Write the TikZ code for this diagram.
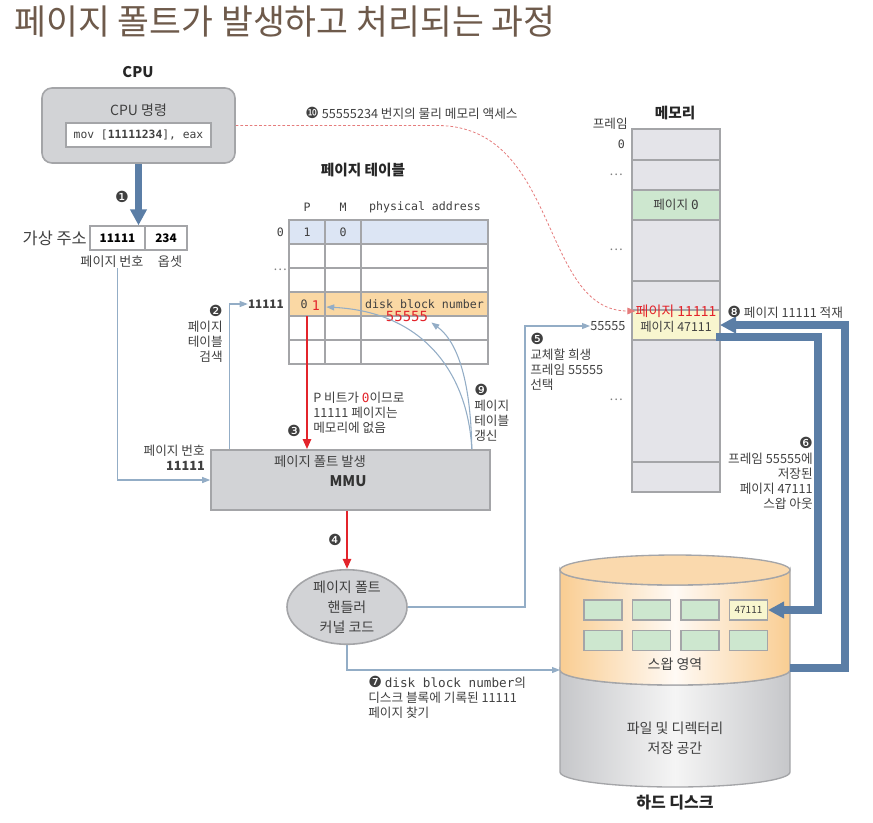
\documentclass[tikz,border=0pt]{standalone}
\usepackage{fontspec}
\setmainfont{Noto Sans CJK KR}
\newfontfamily\monofont{DejaVu Sans Mono}
\newfontfamily\dingfont{DejaVu Sans}
\usetikzlibrary{arrows.meta,shapes.geometric,positioning,calc}

\definecolor{titlebrown}{HTML}{6E5A4B}
\definecolor{txtgray}{HTML}{404040}
\definecolor{linegray}{HTML}{A4A5A8}
\definecolor{boxgray}{HTML}{D2D3D6}
\definecolor{memgray}{HTML}{E4E4E9}
\definecolor{ptblue}{HTML}{DCE5F4}
\definecolor{ptorange}{HTML}{FAD8A4}
\definecolor{pagegreen}{HTML}{CDE7CF}
\definecolor{pageyellow}{HTML}{F8F6CF}
\definecolor{swapblue}{HTML}{5B7EA6}
\definecolor{linkblue}{HTML}{93ADC6}
\definecolor{faultred}{HTML}{E3242B}
\definecolor{dashred}{HTML}{E57C7C}
\definecolor{diskorange}{HTML}{F9CD92}
\definecolor{diskgray}{HTML}{C6C7CA}

\newcommand{\dnum}[1]{{\dingfont\fontsize{11.5}{11.2}\selectfont #1}}

\tikzset{
  lbl/.style={font=\fontsize{9.5}{11.2}\selectfont, text=txtgray, inner sep=0pt},
  headtext/.style={font=\fontsize{11}{13}\selectfont\bfseries, text=black!85, inner sep=0pt},
  monotext/.style={font=\fontsize{8.7}{10}\selectfont\monofont, text=txtgray, inner sep=0pt},
  ptcell/.style={draw=linegray, line width=1.2pt, minimum height=18pt, inner sep=0pt, outer sep=0pt},
  memcell/.style={draw=linegray, line width=1.2pt, fill=memgray, minimum width=66pt, inner sep=0pt, outer sep=0pt},
  swapbox/.style={draw=linegray, line width=0.8pt, fill=pagegreen, minimum width=28.5pt, minimum height=15pt, inner sep=0pt},
  linkarrow/.style={linkblue, line width=0.8pt, -{Triangle[length=6pt,width=4.5pt]}},
  faultarrow/.style={faultred, line width=1.8pt, -{Triangle[length=7.5pt,width=6pt]}},
  bigswap/.style={swapblue, line width=5.5pt, -{Triangle[length=12pt,width=12pt]}},
}

\begin{document}
\begin{tikzpicture}[x=0.75pt,y=-0.75pt]
\useasboundingbox (0,0) rectangle (873,822);

% title
\node[anchor=west, inner sep=0pt, text=titlebrown, font=\fontsize{26}{28}\selectfont] (title) at (14,22) {페이지 폴트가 발생하고 처리되는 과정};

% CPU
\node[headtext] (cpulbl) at (138,72) {CPU};
\node[draw=linegray, line width=1.2pt, fill=boxgray, rounded corners=7.5pt, minimum width=144.75pt, minimum height=56.25pt] (cpu) at (138.5,125.5) {};
\node[lbl, font=\fontsize{10.5}{12}\selectfont] (cpuinst) at (138.5,110) {CPU 명령};
\node[draw=linegray, line width=1pt, fill=white, minimum width=108.75pt, minimum height=18pt, inner sep=0pt] (instr) at (138.5,135) {};
\node[monotext, font=\fontsize{8.5}{10}\selectfont\monofont] at (instr) {mov [\textbf{11111234}], eax};

% virtual address
\node[lbl, anchor=east, font=\fontsize{12.3}{14}\selectfont] (valbl) at (87,238) {가상 주소};
\node[draw=linegray, line width=1pt, minimum width=41.25pt, minimum height=18pt, inner sep=0pt, font=\fontsize{8.8}{10}\selectfont\bfseries] (vapg) at (117.5,238) {11111};
\node[draw=linegray, line width=1pt, minimum width=31.5pt, minimum height=18pt, inner sep=0pt, font=\fontsize{8.8}{10}\selectfont\bfseries] (vaoff) at (166,238) {234};
\node[lbl, font=\fontsize{9.8}{11}\selectfont] (vapglbl) at (112,262) {페이지 번호};
\node[lbl, font=\fontsize{9.8}{11}\selectfont] (vaofflbl) at (170,262) {옵셋};
\node[lbl] at (122,197) {\dnum{❶}};
\draw[bigswap] (cpu.south) -- (cpu.south |- vapg.north);

% page table
\node[headtext] (pttitle) at (363,170) {페이지 테이블};
\node[monotext] at (307,207) {P};
\node[monotext] at (343,207) {M};
\node[monotext] at (425,207) {physical address};
\foreach \r/\fc in {1/ptblue,2/white,3/white,4/ptorange,5/white,6/white} {
  \node[ptcell, fill=\fc, minimum width=27pt] (p\r) at (307,{208+24*\r}) {};
  \node[ptcell, fill=\fc, minimum width=27pt] (m\r) at (343,{208+24*\r}) {};
  \node[ptcell, fill=\fc, minimum width=95.25pt] (a\r) at (424.5,{208+24*\r}) {};
}
\node[monotext] at (p1) {1};
\node[monotext] at (m1) {0};
\node[monotext, anchor=east] (row0) at (284,232) {0};
\node[lbl, text=gray] (rowdots) at (280,270) {…};
\node[lbl, anchor=east, font=\fontsize{8.8}{10}\selectfont\bfseries] (row11111) at (284,304) {11111};
\node[monotext] (pbit) at (304,304) {0};
\node[monotext, text=faultred, font=\fontsize{10}{12}\selectfont\monofont] (pnew) at (316,306) {1};
\node[monotext] (diskblk) at (a4) {disk block number};
\node[monotext, text=faultred, font=\fontsize{10.5}{12}\selectfont\monofont] (newframe) at (407,316) {55555};

% memory
\node[headtext] (memtitle) at (675,113) {메모리};
\foreach \n/\ya/\yb/\fc in {0/129/160/memgray,1/160/190/memgray,2/190/220/pagegreen,3/220/281/memgray,4/281/310/memgray,5/310/340/pageyellow,6/340/462/memgray,7/462/492/memgray}
  \node[memcell, fill=\fc, minimum height={(\yb-\ya)*0.75pt}] (mem\n) at (676,{(\ya+\yb)/2}) {};
\node[lbl] at (mem2) {페이지 {\monofont 0}};
\node[lbl, font=\fontsize{9.3}{11}\selectfont] (pg47111) at (676,327) {페이지 47111};
\node[lbl, text=faultred, font=\fontsize{10.5}{12}\selectfont] (pg11111) at (676,311) {페이지 11111};
\node[lbl, anchor=east] (frlbl) at (628,124) {프레임};
\node[monotext, anchor=east] (fr0) at (625,144) {0};
\node[lbl, text=gray] at (616,175) {…};
\node[lbl, text=gray] at (616,250) {…};
\node[lbl, text=gray] at (616,400) {…};
\node[lbl, anchor=west] (fr55555) at (590,326) {55555};

% step 10: physical access
\node[lbl, anchor=west] (lbl10) at (305,113) {\dnum{❿} 55555234 번지의 물리 메모리 액세스};
\draw[dashred, dash pattern=on 2pt off 1.5pt, line width=0.6pt, -{Triangle[length=6pt,width=5pt]}] (cpu.east) -- (437,125.5) .. controls (560,125.5) and (540,311) .. (pg11111.west);

% MMU
\node[draw=linegray, line width=1.2pt, fill=boxgray, minimum width=209.25pt, minimum height=45pt] (mmu) at (350.5,480) {};
\node[lbl, font=\fontsize{10}{12}\selectfont] (mmufault) at (320,462) {페이지 폴트 발생};
\node[font=\fontsize{11}{13}\selectfont\bfseries, text=black!80, inner sep=0pt] (mmulbl) at (348,481) {MMU};

% steps 2 and 3
\draw[linkarrow] (vapglbl.south -| vapg.south) |- (mmu.west);
\node[lbl, anchor=north east, align=right] (lblpgnum) at (205,445) {페이지 번호\\\textbf{11111}};
\draw[linkarrow] ($(mmu.north west)+(19,0)$) |- (row11111.west);
\node[lbl, anchor=north east, align=right] (lbl2) at (223,305) {\dnum{❷}\\페이지\\테이블\\검색};
\draw[faultarrow] (p4.south) -- (p4.south |- mmu.north);
\node[lbl] at (294,431) {\dnum{❸}};
\node[lbl, anchor=north west, align=left] (why3) at (313,392) {P 비트가 {\color{faultred}\monofont 0}이므로\\11111 페이지는\\메모리에 없음};

% step 9: table update
\coordinate (upd) at ($(mmu.north east)+(-19,0)$);
\draw[linkarrow] (upd) .. controls (468,375) and (425,312) .. ($(pnew.east)+(6,1)$);
\draw[linkarrow] (upd) .. controls (471,395) and (462,345) .. ($(newframe.south east)+(3,1)$);
\node[lbl, anchor=north west, align=left] (lbl9) at (474,384) {\dnum{❾}\\페이지\\테이블\\갱신};

% page fault handler
\node[ellipse, draw=linegray, line width=1.2pt, fill=boxgray, minimum width=90pt, minimum height=55.5pt, inner sep=0pt, align=center, font=\fontsize{10.5}{15}\selectfont, text=txtgray] (handler) at (347,607) {페이지 폴트\\핸들러\\커널 코드};
\draw[faultarrow] (handler.north |- mmu.south) -- (handler.north);
\node[lbl] at (335,540) {\dnum{❹}};

% step 5
\coordinate (bend5) at (525,326);
\draw[linkarrow] (handler.east) -| (bend5) -- (fr55555.west);
\node[lbl, anchor=north west, align=left] (lbl5) at (530,333) {\dnum{❺}\\교체할 희생\\프레임 55555\\선택};

% hard disk
\shadedraw[draw=linegray, line width=1pt, left color=diskgray, right color=diskgray, middle color=gray!8] (560,670) -- (560,772) arc[start angle=180, end angle=0, x radius=115, y radius=15] -- (790,670) arc[start angle=0, end angle=180, x radius=115, y radius=15] -- cycle;
\shadedraw[draw=linegray, line width=1pt, left color=diskorange, right color=diskorange, middle color=orange!4] (560,570) -- (560,670) arc[start angle=180, end angle=0, x radius=115, y radius=15] -- (790,570) arc[start angle=0, end angle=180, x radius=115, y radius=15] -- cycle;
\draw[linegray, line width=1pt, fill=diskorange!75!white] (675,570) ellipse [x radius=115, y radius=15];
\coordinate (diskin) at (560,670);
\coordinate (diskout) at (790,668);
\foreach \c/\x in {1/603,2/651.5,3/700,4/748.5} {
  \node[swapbox] (sa\c) at (\x,610) {};
  \node[swapbox] (sb\c) at (\x,640.5) {};
}
\node[swapbox, fill=pageyellow, font=\fontsize{7.5}{9}\selectfont, text=txtgray] (sa4) at (748.5,610) {47111};
\node[lbl, font=\fontsize{10.5}{12}\selectfont] (swaparea) at (675,664) {스왑 영역};
\node[lbl, align=center, font=\fontsize{10.5}{15}\selectfont] (filearea) at (675,738) {파일 및 디렉터리\\저장 공간};
\node[headtext, font=\fontsize{12}{14}\selectfont\bfseries] (disklbl) at (675,803) {하드 디스크};

% step 7
\draw[linkarrow] (handler.south) |- (diskin);
\node[lbl, anchor=north west, align=left] (lbl7) at (368,676) {\dnum{❼} {\monofont disk block number}의\\디스크 블록에 기록된 11111\\페이지 찾기};

% steps 6 and 8: swap out / swap in
\draw[bigswap] ($(mem5.south east)+(-4,-3)$) -| ($(sa4.east)+(50,0)$) -- (sa4.east);
\draw[bigswap] (diskout) -| ($(mem5.east)+(125,0)$) -- (mem5.east);
\node[lbl, anchor=north east, align=right] (lbl6) at (813,437) {\dnum{❻}\\프레임 55555에\\저장된\\페이지 47111\\스왑 아웃};
\node[lbl, anchor=west] (lbl8) at (727,312) {\dnum{❽} 페이지 11111 적재};
\end{tikzpicture}
\end{document}
